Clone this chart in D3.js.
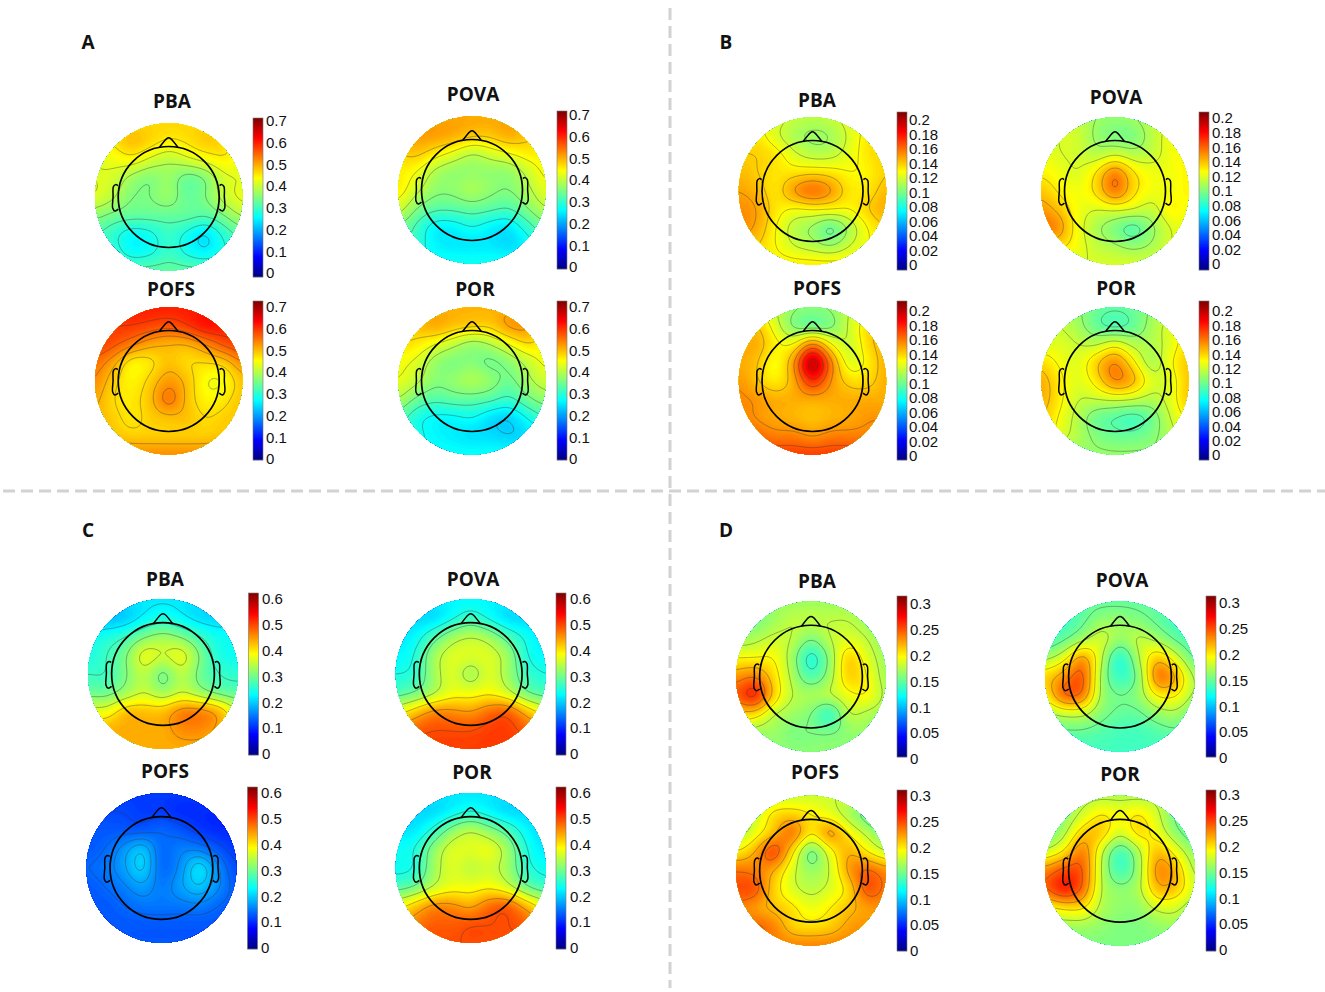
<!DOCTYPE html>
<html><head><meta charset="utf-8">
<script src="https://cdn.jsdelivr.net/npm/d3@7"></script>
<style>html,body{margin:0;background:#fff}svg{display:block}</style></head>
<body><svg id="c" width="1325" height="992"></svg>
<script>
// values sampled on a 9x9 lattice over the scalp disk, top to bottom, left to right
const A_PBA=[[.47,.47,.47,.47,.47,.47,.47,.47,.47],[.44,.46,.49,.47,.45,.46,.48,.47,.44],[.42,.43,.44,.41,.39,.41,.43,.45,.43],[.42,.41,.37,.35,.37,.33,.35,.41,.42],[.42,.39,.35,.35,.37,.33,.35,.4,.43],[.36,.34,.33,.33,.33,.33,.32,.35,.39],[.32,.29,.26,.27,.3,.27,.24,.29,.33],[.31,.3,.26,.27,.3,.27,.25,.28,.3],[.33,.33,.33,.33,.33,.33,.33,.33,.33]];
const A_POVA=[[.51,.51,.51,.51,.51,.51,.51,.51,.51],[.52,.52,.52,.51,.49,.49,.51,.49,.48],[.48,.49,.46,.43,.4,.42,.44,.46,.46],[.46,.44,.39,.37,.37,.37,.37,.41,.45],[.46,.41,.37,.37,.39,.37,.36,.39,.43],[.42,.36,.33,.33,.34,.33,.32,.36,.4],[.36,.31,.26,.26,.28,.26,.25,.3,.35],[.33,.3,.26,.25,.25,.25,.24,.26,.3],[.28,.28,.28,.28,.28,.28,.28,.28,.28]];
const A_POFS=[[.62,.62,.62,.62,.62,.62,.62,.62,.62],[.6,.6,.6,.59,.58,.6,.63,.62,.6],[.6,.58,.55,.52,.51,.51,.54,.58,.6],[.56,.52,.46,.47,.5,.48,.48,.49,.54],[.54,.49,.46,.49,.53,.5,.45,.45,.5],[.52,.48,.47,.5,.56,.5,.46,.47,.5],[.51,.49,.47,.49,.5,.5,.48,.49,.5],[.53,.5,.49,.49,.49,.49,.49,.5,.5],[.54,.54,.54,.54,.54,.54,.54,.54,.54]];
const A_POR=[[.51,.51,.51,.51,.51,.51,.51,.51,.51],[.5,.5,.52,.5,.49,.49,.53,.53,.48],[.48,.47,.44,.41,.38,.4,.44,.48,.46],[.45,.43,.38,.36,.37,.35,.37,.41,.45],[.44,.41,.37,.38,.4,.38,.35,.39,.42],[.4,.35,.33,.34,.34,.33,.31,.35,.38],[.34,.29,.27,.27,.28,.25,.24,.28,.32],[.32,.29,.27,.26,.25,.25,.24,.25,.28],[.28,.28,.28,.28,.28,.28,.28,.28,.28]];
const B_PBA=[[.13,.13,.125,.118,.115,.118,.125,.13,.13],[.135,.135,.122,.112,.108,.11,.122,.135,.14],[.14,.14,.135,.122,.115,.116,.125,.135,.14],[.145,.14,.135,.135,.137,.135,.13,.132,.14],[.15,.145,.135,.152,.162,.152,.135,.135,.145],[.155,.15,.135,.128,.13,.13,.13,.14,.148],[.155,.148,.13,.115,.108,.096,.112,.13,.14],[.145,.14,.13,.12,.115,.11,.12,.13,.135],[.135,.135,.135,.135,.135,.135,.135,.135,.135]];
const B_POVA=[[.12,.12,.115,.108,.105,.108,.115,.12,.12],[.12,.12,.118,.105,.1,.1,.113,.125,.125],[.125,.12,.118,.112,.118,.112,.115,.125,.13],[.13,.125,.12,.133,.155,.133,.125,.125,.13],[.14,.13,.125,.135,.158,.135,.125,.125,.13],[.15,.14,.125,.12,.122,.12,.115,.13,.125],[.16,.15,.125,.11,.1,.09,.105,.12,.125],[.14,.135,.125,.115,.11,.105,.11,.12,.125],[.12,.12,.12,.12,.12,.12,.12,.12,.12]];
const B_POFS=[[.135,.13,.12,.11,.108,.11,.12,.13,.135],[.14,.145,.125,.104,.1,.104,.122,.14,.15],[.15,.15,.135,.132,.16,.132,.12,.14,.15],[.15,.145,.13,.155,.205,.16,.125,.135,.15],[.155,.145,.135,.15,.18,.155,.14,.14,.15],[.158,.155,.15,.15,.15,.15,.15,.15,.15],[.16,.155,.15,.148,.145,.148,.15,.155,.155],[.17,.165,.16,.16,.155,.16,.16,.16,.165],[.175,.175,.175,.175,.175,.175,.175,.175,.175]];
const B_POR=[[.115,.115,.11,.1,.098,.1,.11,.115,.125],[.12,.12,.112,.098,.092,.098,.113,.125,.135],[.125,.125,.12,.118,.128,.116,.115,.125,.14],[.14,.13,.125,.142,.158,.135,.113,.13,.145],[.15,.135,.125,.137,.158,.148,.125,.125,.145],[.15,.135,.12,.12,.122,.12,.115,.125,.145],[.145,.13,.115,.1,.095,.09,.1,.12,.135],[.14,.125,.115,.105,.1,.1,.105,.115,.125],[.11,.11,.11,.11,.11,.11,.11,.11,.11]];
const C_PBA=[[.22,.22,.22,.22,.22,.22,.22,.22,.22],[.2,.19,.2,.23,.25,.23,.21,.21,.22],[.24,.25,.27,.31,.33,.31,.27,.24,.24],[.25,.27,.31,.38,.36,.38,.31,.25,.24],[.27,.27,.31,.35,.3,.35,.3,.27,.26],[.3,.3,.33,.36,.33,.36,.33,.3,.29],[.38,.38,.43,.43,.43,.47,.47,.44,.36],[.43,.44,.44,.44,.44,.46,.46,.44,.4],[.44,.44,.44,.44,.44,.44,.44,.44,.44]];
const C_POVA=[[.23,.23,.23,.23,.23,.23,.23,.23,.23],[.22,.21,.21,.24,.27,.24,.21,.21,.22],[.22,.23,.28,.33,.35,.33,.28,.24,.22],[.23,.25,.33,.37,.37,.37,.33,.25,.23],[.25,.26,.33,.37,.33,.37,.33,.27,.25],[.28,.3,.34,.38,.38,.39,.36,.3,.28],[.38,.42,.46,.46,.45,.48,.49,.43,.38],[.47,.49,.5,.5,.5,.51,.51,.49,.47],[.51,.51,.51,.51,.51,.51,.51,.51,.51]];
const C_POFS=[[.112,.112,.112,.112,.112,.112,.112,.112,.112],[.12,.12,.12,.112,.112,.102,.102,.102,.11],[.13,.13,.13,.13,.14,.13,.112,.102,.102],[.13,.14,.17,.2,.14,.155,.155,.13,.11],[.14,.15,.175,.21,.14,.165,.22,.165,.12],[.13,.14,.155,.175,.15,.175,.2,.165,.13],[.13,.13,.14,.15,.15,.15,.155,.14,.13],[.13,.13,.13,.13,.13,.13,.13,.13,.13],[.13,.13,.13,.13,.13,.13,.13,.13,.13]];
const C_POR=[[.22,.22,.22,.22,.22,.22,.22,.22,.22],[.21,.21,.21,.23,.25,.23,.21,.21,.21],[.22,.22,.26,.32,.35,.32,.28,.23,.21],[.24,.25,.32,.37,.37,.38,.33,.25,.22],[.24,.25,.33,.37,.35,.36,.33,.26,.24],[.28,.3,.35,.38,.38,.39,.36,.3,.27],[.38,.42,.46,.46,.44,.48,.49,.43,.38],[.45,.47,.49,.49,.5,.5,.5,.49,.45],[.5,.5,.5,.5,.5,.5,.5,.5,.5]];
const D_PBA=[[.17,.17,.17,.17,.17,.17,.17,.17,.17],[.17,.16,.17,.18,.18,.18,.18,.17,.16],[.17,.175,.185,.18,.16,.18,.19,.18,.165],[.2,.2,.2,.17,.13,.165,.215,.19,.17],[.23,.24,.21,.175,.145,.17,.215,.2,.17],[.25,.27,.215,.18,.175,.18,.195,.2,.175],[.21,.21,.18,.17,.16,.135,.18,.175,.17],[.185,.17,.17,.16,.16,.16,.165,.17,.165],[.165,.165,.165,.165,.165,.165,.165,.165,.165]];
const D_POVA=[[.15,.15,.15,.15,.15,.15,.15,.15,.15],[.15,.14,.15,.165,.165,.16,.15,.14,.14],[.14,.15,.17,.185,.165,.18,.17,.15,.14],[.17,.19,.23,.18,.13,.175,.215,.185,.15],[.21,.23,.25,.17,.135,.16,.24,.22,.17],[.2,.245,.24,.17,.155,.165,.2,.2,.17],[.17,.18,.18,.16,.15,.15,.165,.17,.15],[.15,.15,.15,.145,.14,.14,.145,.15,.145],[.14,.14,.14,.14,.14,.14,.14,.14,.14]];
const D_POFS=[[.18,.18,.18,.18,.18,.18,.18,.18,.18],[.16,.18,.205,.21,.2,.19,.17,.15,.14],[.17,.19,.215,.24,.2,.23,.2,.175,.155],[.2,.22,.255,.205,.15,.19,.22,.2,.18],[.24,.235,.22,.185,.165,.18,.225,.245,.23],[.25,.25,.21,.185,.175,.185,.205,.25,.235],[.235,.225,.215,.205,.19,.2,.215,.225,.23],[.24,.245,.235,.21,.205,.21,.225,.23,.22],[.235,.235,.235,.235,.235,.235,.235,.235,.235]];
const D_POR=[[.17,.17,.17,.17,.17,.17,.17,.17,.17],[.15,.16,.18,.2,.19,.2,.18,.15,.14],[.15,.17,.21,.21,.18,.205,.19,.16,.14],[.18,.2,.235,.18,.135,.17,.215,.19,.16],[.23,.25,.245,.175,.135,.165,.23,.215,.17],[.24,.265,.24,.175,.16,.17,.215,.21,.18],[.19,.2,.2,.17,.16,.16,.18,.18,.16],[.17,.165,.165,.16,.155,.155,.16,.165,.155],[.155,.155,.155,.155,.155,.155,.155,.155,.155]];

const ticksA=[0,.1,.2,.3,.4,.5,.6,.7];
const ticksB=[0,.02,.04,.06,.08,.1,.12,.14,.16,.18,.2];
const ticksC=[0,.1,.2,.3,.4,.5,.6];
const ticksD=[0,.05,.1,.15,.2,.25,.3];
const panelLetters=["A","B","C","D"];

// layout: title, data, ticks, contour step, disk cx cy R, title x y, bar x y0 y1, tick y0 y1 x
const maps=[
["PBA",A_PBA,ticksA,.035,168.7,197,73.7,172,101,253,118,277,273,121,266],
["POVA",A_POVA,ticksA,.04,472,190,73.7,473,94,557,111,269,267,115,569],
["POFS",A_POFS,ticksA,.03,168.7,381,73.7,171,289,253,301,460,459,307,266],
["POR",A_POR,ticksA,.04,472,381,73.7,475,289,557,301,460,459,307,569],
["PBA",B_PBA,ticksB,.01,812.5,191,73.7,817,100,897,112,270,265,120,909],
["POVA",B_POVA,ticksB,.012,1115,191,73.7,1116,97,1199,112,270,264,118,1212],
["POFS",B_POFS,ticksB,.012,812.5,381,73.7,817,288,897,301,460,456,311,909],
["POR",B_POR,ticksB,.012,1115,381,73.7,1116,288,1199,301,460,455,311,1212],
["PBA",C_PBA,ticksC,.045,163,674,75,165,579,248.5,593,755,754,599,262],
["POVA",C_POVA,ticksC,.05,470.7,674,75,473,579,556,593,755,754,599,570],
["POFS",C_POFS,ticksC,.02,161.4,868,75,165,771,247.5,787,949,948,793,261],
["POR",C_POR,ticksC,.05,470.7,868,75,472,772,556,787,949,948,793,570],
["PBA",D_PBA,ticksD,.02,811,676.6,75,817,581,897,596,757,759,604,910],
["POVA",D_POVA,ticksD,.022,1120,676.6,75,1122,580,1206,596,757,758,603,1219],
["POFS",D_POFS,ticksD,.02,811,870.7,75,815,772,897,790,951,951,796,910],
["POR",D_POR,ticksD,.022,1120,870.7,75,1120,774,1206,790,951,950,795,1219]
];
const letterPos=[[88,42],[726,42],[88,530],[726,530]];
const noseShape=[[-.125,-.675],[-.03,-.79],[0,-.803],[.03,-.79],[.125,-.675]];
const earShape=[[.69,-.155],[.72,-.168],[.75,-.14],[.755,0],[.76,.15],[.73,.19],[.685,.165]];

const jetStops=["#00007f","#0000ff","#007fff","#00ffff","#7fff7f","#ffff00","#ff7f00","#ff0000","#7f0000"];
const jet=d3.scaleLinear().domain(d3.range(9).map(i=>i/8)).range(jetStops).interpolate(d3.interpolateRgb).clamp(true);

const svg=d3.select("#c");
const defs=svg.append("defs");
svg.append("g").selectAll("line").data([[670,8,670,988],[3,491,1325,491]]).join("line")
 .attr("x1",d=>d[0]).attr("y1",d=>d[1]).attr("x2",d=>d[2]).attr("y2",d=>d[3])
 .attr("stroke","#d2d2d2").attr("stroke-width",3).attr("stroke-dasharray","12 6");
svg.append("g").selectAll("text").data(panelLetters).join("text")
 .attr("x",(d,i)=>letterPos[i][0]).attr("y",(d,i)=>letterPos[i][1]).attr("dy","0.35em")
 .attr("text-anchor","middle").attr("font-family","'Open Sans',sans-serif").attr("font-weight",700).attr("font-size",19).attr("fill","#111").text(d=>d);

function cr(p0,p1,p2,p3,t){return .5*((2*p1)+(-p0+p2)*t+(2*p0-5*p1+4*p2-p3)*t*t+(-p0+3*p1-3*p2+p3)*t*t*t);}
function sample(g,u,v){ // u,v in lattice index units, bicubic
 const n=g.length-1,cl=i=>Math.max(0,Math.min(n,i));
 u=Math.max(0,Math.min(n,u));v=Math.max(0,Math.min(n,v));
 const i=Math.min(n-1,Math.floor(u)),j=Math.min(n-1,Math.floor(v)),tx=u-i,ty=v-j;
 const row=k=>{const r=g[cl(k)];return cr(r[cl(i-1)],r[i],r[cl(i+1)],r[cl(i+2)],tx);};
 return cr(row(j-1),row(j),row(j+1),row(j+2),ty);
}
const N=140,ext=1.06;
maps.forEach((m,idx)=>{
 const [title,grid,ticks,step,cx,cy,R,tx,ty,bx,by0,by1,ly0,ly1,lx]=m;
 const x=d3.scaleLinear().domain([-1,1]).range([cx-R,cx+R]);
 const y=d3.scaleLinear().domain([-1,1]).range([cy-R,cy+R]);
 const vmax=d3.max(ticks);
 const tickY=d3.scaleLinear().domain([0,vmax]).range([ly0,ly1]);
 const lo=tickY.invert(by1),hi=tickY.invert(by0);
 const color=d3.scaleSequential(jet).domain([lo,hi]);
 const g=svg.append("g");
 g.append("text").attr("x",tx).attr("y",ty).attr("dy","0.36em").attr("text-anchor","middle")
  .attr("font-family","'Open Sans',sans-serif").attr("font-weight",700).attr("font-size",19).attr("fill","#111").text(title);
 // field
 const values=new Float64Array((N+1)*(N+1));
 const L=grid.length-1;
 for(let j=0;j<=N;j++)for(let i=0;i<=N;i++){
  const ux=-ext+2*ext*i/N,uy=-ext+2*ext*j/N;
  values[j*(N+1)+i]=sample(grid,(ux+1)/2*L,(uy+1)/2*L);
 }
 d3.blur2({data:values,width:N+1,height:N+1},4);
 const gx=d3.scaleLinear().domain([0,N]).range([x(-ext),x(ext)]);
 const gy=d3.scaleLinear().domain([0,N]).range([y(-ext),y(ext)]);
 const path=d3.geoPath(d3.geoTransform({point(a,b){this.stream.point(gx(a-.5),gy(b-.5));}}));
 const id="clip"+idx;
 defs.append("clipPath").attr("id",id).append("circle").attr("cx",cx).attr("cy",cy).attr("r",R);
 const body=g.append("g").attr("clip-path",`url(#${id})`);
 const fine=d3.range(lo,hi,(hi-lo)/160);
 const cs=d3.contours().size([N+1,N+1]).thresholds(fine)(values);
 body.append("circle").attr("cx",cx).attr("cy",cy).attr("r",R).attr("fill",color(d3.min(values)));
 body.selectAll("path.f").data(cs.filter(c=>c.coordinates.length)).join("path").attr("class","f")
  .attr("d",path).attr("fill",d=>color(d.value));
 const levels=d3.range(Math.ceil(d3.min(values)/step),Math.floor(d3.max(values)/step)+1).map(k=>k*step);
 const ls=d3.contours().size([N+1,N+1]).thresholds(levels)(values);
 body.selectAll("path.l").data(ls).join("path").attr("class","l").attr("d",path)
  .attr("fill","none").attr("stroke","#3c3c3c").attr("stroke-opacity",.45).attr("stroke-width",.9);
 // head
 g.append("circle").attr("cx",cx).attr("cy",cy).attr("r",x(.685)-x(0)).attr("fill","none").attr("stroke","#000").attr("stroke-width",1.7);
 const shape=d3.line().x(d=>x(d[0])).y(d=>y(d[1]));
 g.append("path").attr("d",shape.curve(d3.curveCatmullRom)(noseShape)).attr("fill","none").attr("stroke","#000").attr("stroke-width",1.5).attr("stroke-linejoin","round");
 const earLine=d3.line().x(d=>x(d[0])).y(d=>y(d[1])).curve(d3.curveCatmullRom);
 [1,-1].forEach(s=>g.append("path").attr("d",earLine(earShape.map(p=>[s*p[0],p[1]]))).attr("fill","none").attr("stroke","#000").attr("stroke-width",1.5));
 // colour bar
 const barW=10,barY=d3.scaleLinear().domain([lo,hi]).range([by1,by0]);
 const bar=g.append("g");
 bar.selectAll("rect").data(d3.range(0,by1-by0)).join("rect")
  .attr("x",bx).attr("width",barW).attr("y",d=>by1-d-1).attr("height",1.2)
  .attr("fill",d=>color(barY.invert(by1-d-.5)));
 bar.append("rect").attr("x",bx).attr("y",by0).attr("width",barW).attr("height",by1-by0).attr("fill","none").attr("stroke","#777").attr("stroke-width",.6);
 const axis=d3.axisRight(tickY).tickValues(ticks).tickSize(0).tickPadding(0).tickFormat(d3.format("~g"));
 const ag=g.append("g").attr("transform",`translate(${lx},0)`).call(axis);
 ag.select(".domain").remove();
 ag.selectAll("text").attr("font-family","'Liberation Sans',Arial,sans-serif").attr("font-size",15).attr("fill","#111");
});
</script></body></html>
